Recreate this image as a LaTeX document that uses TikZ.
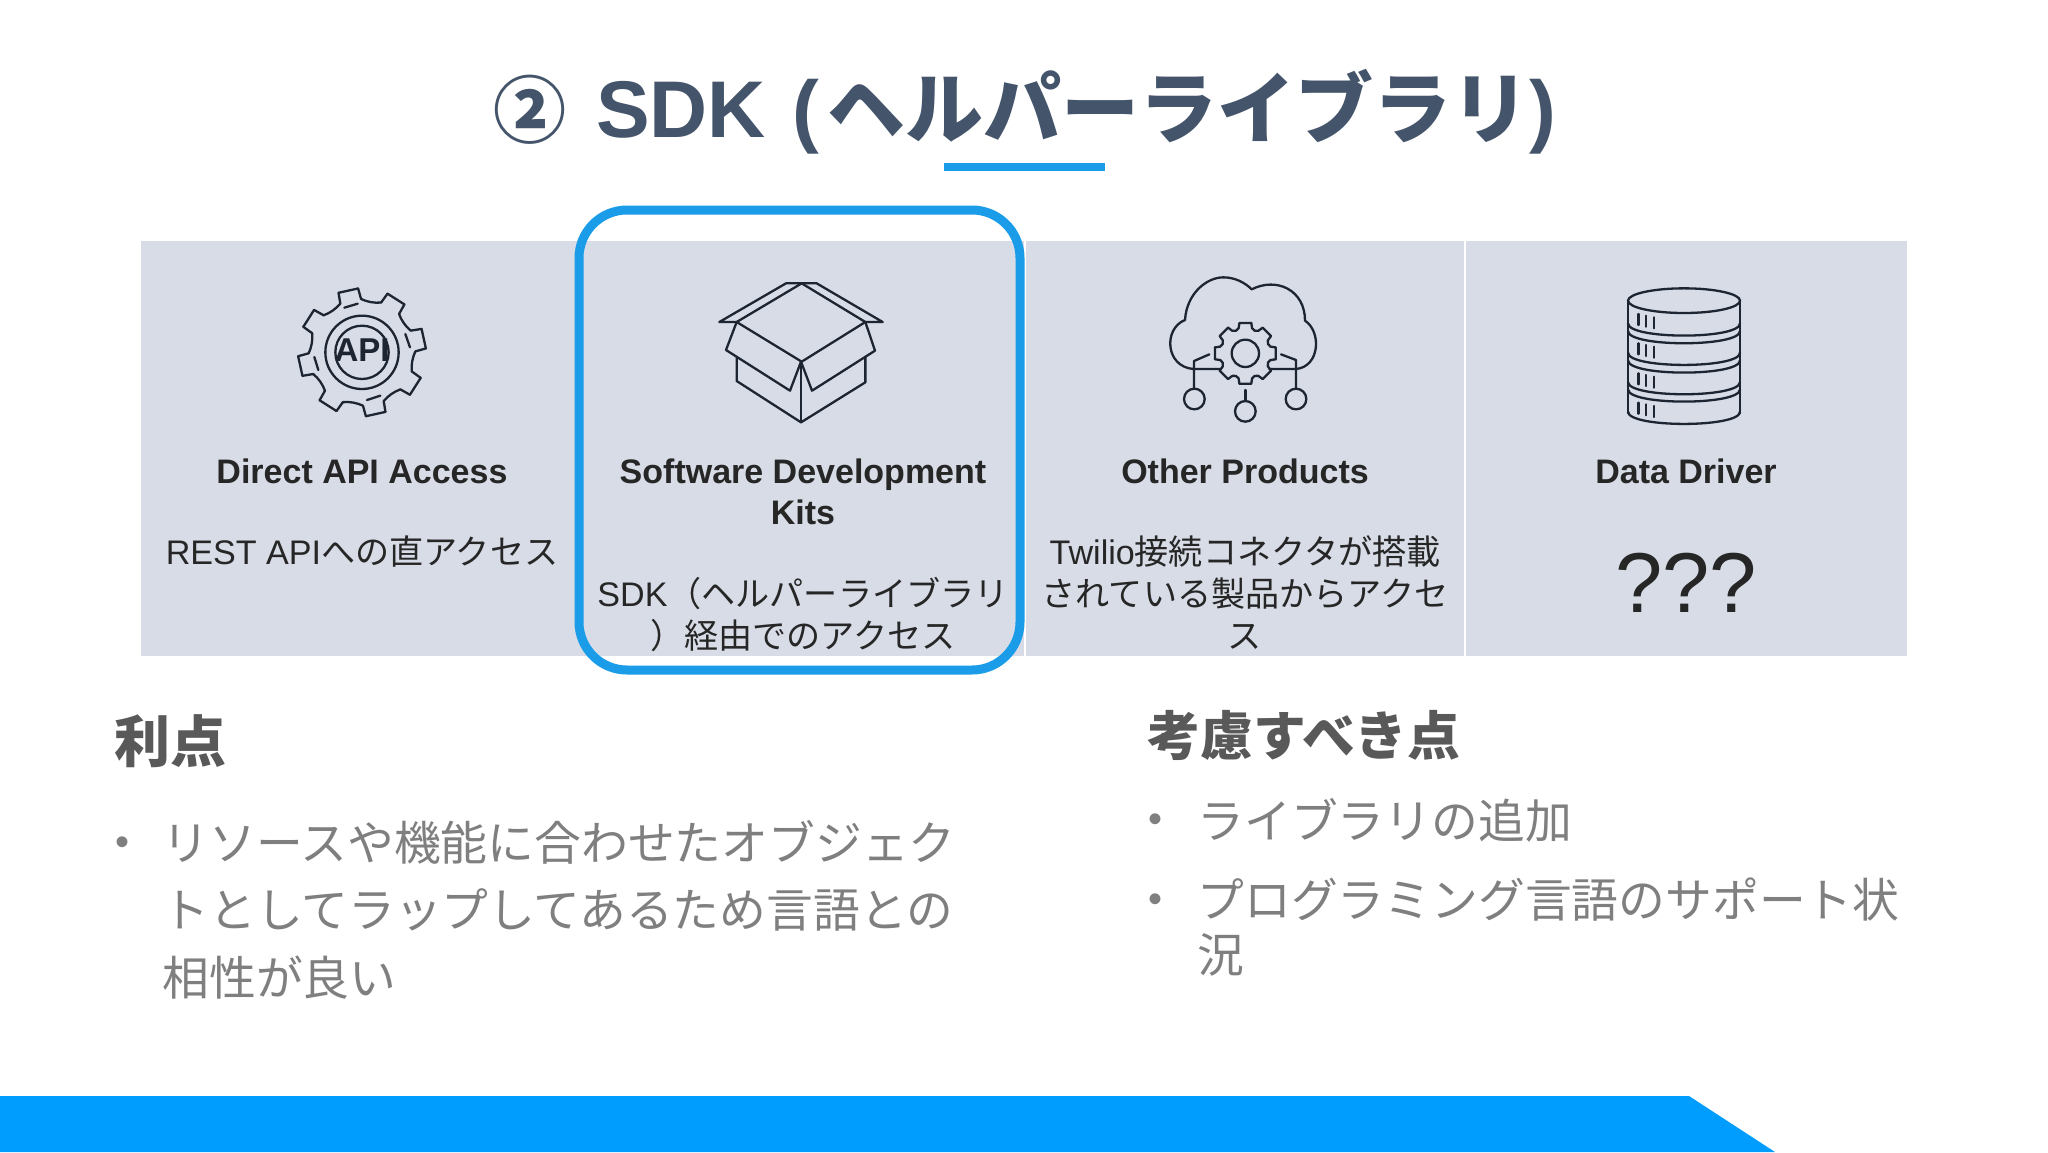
\documentclass[tikz,border=0pt]{standalone}
\usepackage{fontspec}
\usetikzlibrary{calc}
\setmainfont{Liberation Sans}
\newfontfamily\cjk{Noto Sans CJK JP}
\newfontfamily\cjkmid{Noto Sans CJK JP Medium}
\newcommand\jp[1]{{\cjk #1}}
\newcommand\fpx[1]{\fontsize{#1}{#1}\selectfont}
\definecolor{panelc}{HTML}{D7DCE6}
\definecolor{bandc}{HTML}{009DFF}
\definecolor{hilite}{HTML}{1A9CE8}
\definecolor{titlec}{HTML}{44546A}
\definecolor{headc}{HTML}{595959}
\definecolor{bodyc}{HTML}{7F7F7F}
\definecolor{inkc}{HTML}{262626}
\definecolor{iconc}{HTML}{1E2532}
\tikzset{
  panel/.style={fill=panelc,draw=none},
  cardhead/.style={anchor=base,inner sep=0pt,font=\fpx{17}\bfseries,text=inkc},
  cardtext/.style={anchor=base,inner sep=0pt,font=\fpx{17.05},text=inkc},
  sechead/.style={anchor=base west,inner sep=0pt,font=\bfseries,text=headc},
  bulletdot/.style={anchor=center,inner sep=0pt,font=\fpx{20},text=bodyc},
  bullettext/.style={anchor=base west,inner sep=0pt,font=\fpx{23.4},text=bodyc},
  icon/.style={draw=iconc,line width=1.15pt,line join=round,line cap=round,fill=none},
  zoomed/.style={x=0.16667pt,y=-0.16667pt},
}
\begin{document}
\begin{tikzpicture}[x=0.5pt,y=-0.5pt]
\useasboundingbox (0,0) rectangle (2048,1152);
\fill[white] (0,0) rectangle (2048,1152);
% title
\node[anchor=base,inner sep=0pt,text=titlec,font=\fpx{40.2}\bfseries] (title) at (1025,137) {{\fpx{36.5}\cjkmid ②}\hspace{3.65pt} SDK\hspace{2.3pt} (\hspace{4pt}{\fpx{39}\jp{ヘルパーライブラリ}})};
\fill[hilite] (944,163) rectangle (1105,171);
% panels
\fill[panel] (141,241) rectangle (582,656);
\fill[panel] (582,241) rectangle (1024,656);
\fill[panel] (1026,241) rectangle (1464,656);
\fill[panel] (1466,241) rectangle (1907,656);
% highlight
\draw[hilite,line width=4.5pt,rounded corners=24pt] (579,210) rectangle (1020,670);
% gear API icon
\begin{scope}[shift={(261,260)},zoomed]
  \foreach \k in {0,...,7}{
    \pgfmathsetmacro\a{102.5+45*\k}
    \pgfmathsetmacro\b{\a-9}
    \pgfmathsetmacro\c{\a+9}
    \pgfmathsetmacro\d{\a-11.5}
    \pgfmathsetmacro\e{\a+11.5}
    \draw[icon] ($(303,277)+({192*cos(\b)},{-192*sin(\b)})$) -- ($(303,277)+({192*cos(\c)},{-192*sin(\c)})$);
    \draw[icon] ($(303,277)+({192*cos(\c)},{-192*sin(\c)})$) -- ($(303,277)+({160*cos(\e)},{-160*sin(\e)})$);
    \draw[icon] ($(303,277)+({192*cos(\b)},{-192*sin(\b)})$) -- ($(303,277)+({160*cos(\d)},{-160*sin(\d)})$);
    \draw[icon] ($(303,277)+({160*cos(\d)},{-160*sin(\d)})$) .. controls ($(303,277)+({152*cos(\d-7)},{-152*sin(\d-7)})$) and ($(303,277)+({152*cos(\d-15)},{-152*sin(\d-15)})$) .. ($(303,277)+({160*cos(\d-22)},{-160*sin(\d-22)})$);
  }
  \draw[icon] (303,277) circle[radius=110];
  \draw[icon] (303,277) circle[radius=80];
  \draw[icon] (250,143)--(290,131) (433,222)--(447,262) (318,420)--(358,407) (160,291)--(172,330);
  \node[inner sep=0pt,font=\fpx{16.5}\bfseries,text=iconc] (apilabel) at (303,270) {API};
\end{scope}
% box icon
\begin{scope}[shift={(690,260)},zoomed]
  \draw[icon] (140,186)--(88,186)--(288,70)--(380,70)--(578,186)--(526,186);
  \draw[icon] (335,70)--(526,186)--(335,305)--(140,186)--cycle;
  \draw[icon] (140,186)--(108,270)--(300,392)--(333,305);
  \draw[icon] (526,186)--(555,272)--(366,392)--(333,305);
  \draw[icon] (140,292)--(140,363)--(333,487)--(526,367)--(526,292);
  \draw[icon] (333,305)--(333,487);
\end{scope}
% cloud icon
\begin{scope}[shift={(1140,260)},zoomed]
  \draw[icon] (243,327)--(160,327) .. controls (75,320) and (70,205) .. (135,180)
     .. controls (140,100) and (200,52) .. (250,52) .. controls (285,52) and (315,68) .. (335,88)
     .. controls (410,50) and (495,90) .. (495,182) .. controls (545,215) and (540,320) .. (468,327)--(388,327);
  \foreach \k in {0,...,7}{
    \pgfmathsetmacro\a{90+45*\k}
    \pgfmathsetmacro\b{\a-11}
    \pgfmathsetmacro\c{\a+11}
    \pgfmathsetmacro\d{\a-15}
    \pgfmathsetmacro\e{\a+15}
    \draw[icon] ($(316,280)+({93*cos(\b)},{-93*sin(\b)})$)--($(316,280)+({93*cos(\c)},{-93*sin(\c)})$)--($(316,280)+({78*cos(\e)},{-78*sin(\e)})$) .. controls ($(316,280)+({72*cos(\e+5)},{-72*sin(\e+5)})$) and ($(316,280)+({72*cos(\e+10)},{-72*sin(\e+10)})$) .. ($(316,280)+({78*cos(\e+15)},{-78*sin(\e+15)})$)--($(316,280)+({93*cos(\e+19)},{-93*sin(\e+19)})$);
  }
  \draw[icon] (316,280) circle[radius=41];
  \draw[icon] (208,283)--(162,303)--(162,385);
  \draw[icon] (163,417) circle[radius=31];
  \draw[icon] (423,283)--(468,300)--(468,385);
  \draw[icon] (468,417) circle[radius=31];
  \draw[icon] (316,390)--(316,423);
  \draw[icon] (316,454) circle[radius=31];
\end{scope}
% database icon
\begin{scope}[shift={(1590,260)},zoomed]
  \draw[icon] (282,122) ellipse[x radius=168,y radius=37];
  \draw[icon] (114,122)--(114,460) (450,122)--(450,460);
  \foreach \y in {190,213,278,301,366,388,455}{
    \draw[icon] (114,\y) .. controls (114,{\y+49}) and (450,{\y+49}) .. (450,\y);
  }
  \foreach \y in {162,250,340,428}{
    \draw[icon] (145,\y)--(145,\y+33) (168,\y+5)--(168,\y+38) (192,\y+10)--(192,\y+43);
  }
\end{scope}
% card texts
\node[cardhead] (h1) at (362,483) {Direct API Access};
\node[cardtext] (t1) at (362,564) {REST API\jp{への直アクセス}};
\node[cardhead] (h2a) at (803,483) {Software Development};
\node[cardhead] (h2b) at (803,524) {Kits};
\node[cardtext] (t2a) at (803,606) {SDK\jp{（ヘルパーライブラリ}};
\node[cardtext] (t2b) at (803,648) {\jp{）経由でのアクセス}};
\node[cardhead] (h3) at (1245,483) {Other Products};
\node[cardtext] (t3a) at (1245,564) {Twilio\jp{接続コネクタが搭載}};
\node[cardtext] (t3b) at (1245,606) {\jp{されている製品からアクセ}};
\node[cardtext] (t3c) at (1245,648) {\jp{ス}};
\node[cardhead] (h4) at (1686,483) {Data Driver};
\node[anchor=base,inner sep=0pt,font=\fpx{42.5},text=inkc] (t4) at (1686,612) {???};
% lower sections
\node[sechead,font=\fpx{28}\bfseries] (s1) at (114,762) {\jp{利点}};
\node[sechead,font=\fpx{26.4}\bfseries] (s2) at (1147,755) {\jp{考慮すべき点}};
\node[bulletdot] (b1) at (122,846) {•};
\node[bullettext] (l1) at (162,860) {\jp{リソースや機能に合わせたオブジェク}};
\node[bullettext] (l2) at (162,927) {\jp{トとしてラップしてあるため言語との}};
\node[bullettext] (l3) at (162,995) {\jp{相性が良い}};
\node[bulletdot] (b2) at (1155,823) {•};
\node[bullettext] (r1) at (1197,838) {\jp{ライブラリの追加}};
\node[bulletdot] (b3) at (1155,903) {•};
\node[bullettext] (r2) at (1197,917) {\jp{プログラミング言語のサポート状}};
\node[bullettext] (r3) at (1197,972) {\jp{況}};
% bottom band
\fill[bandc] (0,1096)--(1689,1096)--(1775,1152)--(0,1152)--cycle;
\end{tikzpicture}
\end{document}
